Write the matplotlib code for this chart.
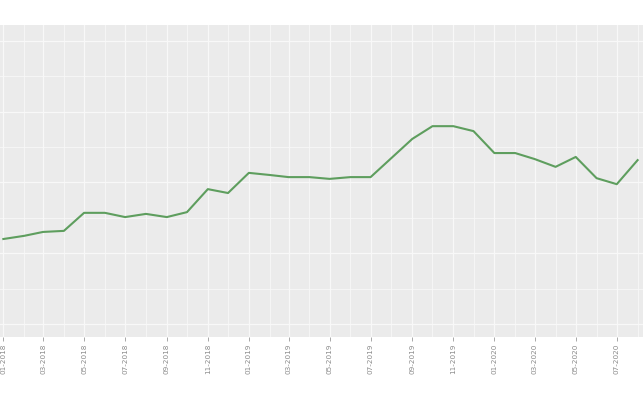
import numpy as np
import pandas as pd
import matplotlib
matplotlib.use('Agg')
import matplotlib.pyplot as plt
import matplotlib.dates as mdates

# monthly values, Jan 2018 - Aug 2020 (arbitrary units)
months = pd.date_range('2018-01-01', '2020-08-01', freq='MS')
values = [24.0, 24.9, 26.0, 26.3, 31.4, 31.4, 30.2, 31.1, 30.2, 31.6,
          38.1, 37.0, 42.7, 42.1, 41.5, 41.5, 41.0, 41.5, 41.5, 46.9,
          52.3, 55.9, 55.9, 54.5, 48.3, 48.3, 46.6, 44.4, 47.2, 41.2,
          39.5, 46.3]

fig = plt.figure(figsize=(6.43, 3.97), dpi=100)
ax = fig.add_axes([0, 60 / 397, 1, 312 / 397])
ax.set_facecolor('#ebebeb')

ax.plot(months, values, color='#5e9e5e', linewidth=1.5, solid_joinstyle='round')

ax.set_xlim(pd.Timestamp('2017-12-27'), pd.Timestamp('2020-08-09'))
ax.set_ylim(-3.7, 84.5)

ax.xaxis.set_major_locator(mdates.MonthLocator(bymonth=[1, 3, 5, 7, 9, 11]))
ax.xaxis.set_minor_locator(mdates.MonthLocator(bymonth=[2, 4, 6, 8, 10, 12]))
ax.xaxis.set_major_formatter(mdates.DateFormatter('%m-%Y'))
ax.set_yticks(np.arange(0, 81, 20))
ax.set_yticks(np.arange(10, 81, 20), minor=True)

ax.grid(True, which='major', color='#f8f8f8', linewidth=0.9)
ax.grid(True, which='minor', color='#f8f8f8', linewidth=0.6)
ax.set_axisbelow(True)

ax.tick_params(axis='x', which='major', rotation=90, labelsize=5.2,
               labelcolor='#8a8a8a', color='#9a9a9a', length=3, width=0.6, pad=2)
ax.tick_params(axis='x', which='minor', length=0)
ax.tick_params(axis='y', which='both', length=0, labelleft=False)
for s in ax.spines.values():
    s.set_visible(False)

fig.savefig('out.png', dpi=100)
